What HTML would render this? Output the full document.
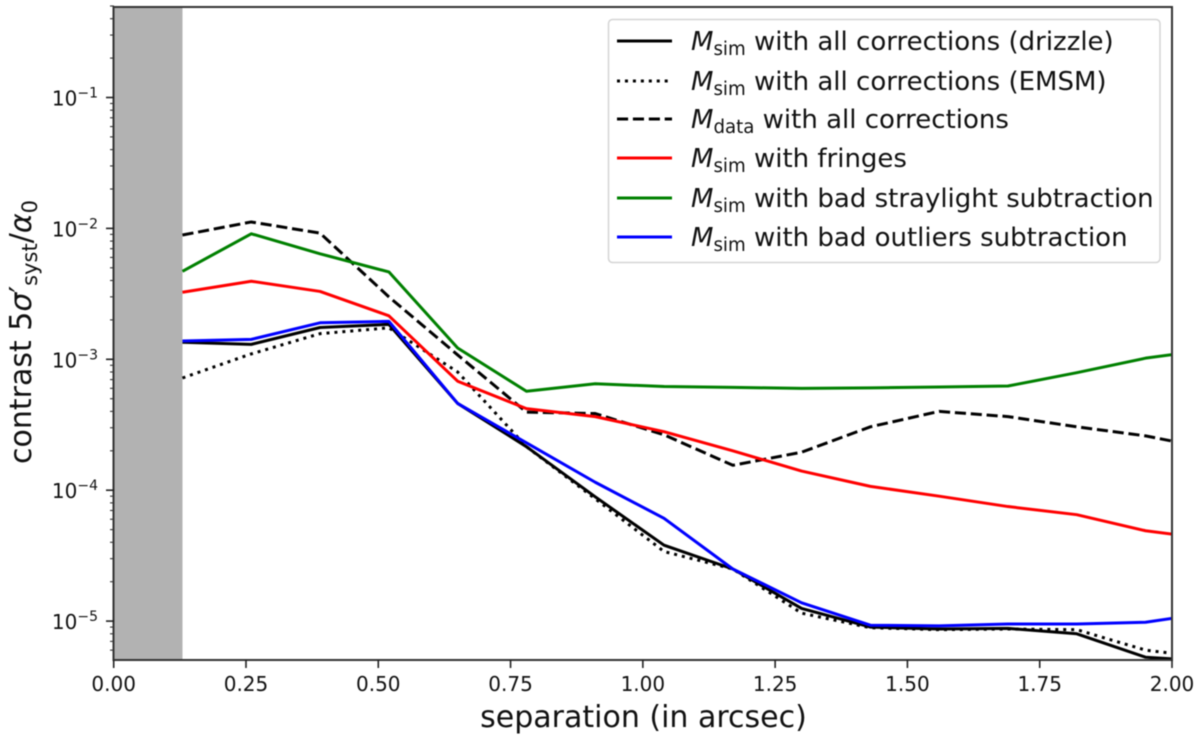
<!DOCTYPE html>
<html lang="en">
<head>
<meta charset="utf-8">
<title>Contrast vs separation</title>
<style>
html,body{margin:0;padding:0;background:#fff;}
#chart{display:block;width:1200px;height:739px;filter:blur(0.4px);}
text{font-family:"DejaVu Sans","Liberation Sans",sans-serif;fill:#111;}
</style>
</head>
<body>
<svg id="chart" xmlns="http://www.w3.org/2000/svg" width="1200" height="739" viewBox="0 0 1200 739">
  <defs><clipPath id="plot-clip"><rect x="114" y="7" width="1058" height="653"/></clipPath></defs>
  <rect x="0" y="0" width="1200" height="739" fill="#fff"/>
  <g id="band-layer"></g>
  <g id="series-layer" clip-path="url(#plot-clip)"></g>
  <rect x="113.5" y="7" width="1058.5" height="653" fill="none" stroke="#333" stroke-width="2"/>
  <g id="tick-layer"></g>

  <text x="643.5" y="727" text-anchor="middle" font-size="30">separation (in arcsec)</text>
  <text transform="translate(31,332) rotate(-90)" text-anchor="middle" font-size="30">contrast 5<tspan font-style="italic">σ</tspan>′<tspan font-size="21" dy="6">syst</tspan><tspan dy="-6">/</tspan><tspan font-style="italic">α</tspan><tspan font-size="21" dy="6">0</tspan></text>

  <g>
    <rect x="608.5" y="19.5" width="551.5" height="243" rx="4" ry="4" fill="#fff" fill-opacity="0.9" stroke="#d4d4d4" stroke-width="1.5"/>
    <g>
      <line x1="617" x2="672" y1="41" y2="41" stroke="#000" stroke-width="3"/>
      <text x="691" y="50" font-size="26"><tspan font-style="italic">M</tspan><tspan font-size="18.2" dy="5">sim</tspan><tspan dy="-5"> with all corrections (drizzle)</tspan></text>
    </g>
    <g>
      <line x1="617" x2="672" y1="81" y2="81" stroke="#000" stroke-width="3" stroke-dasharray="3 4.95"/>
      <text x="691" y="90" font-size="26"><tspan font-style="italic">M</tspan><tspan font-size="18.2" dy="5">sim</tspan><tspan dy="-5"> with all corrections (EMSM)</tspan></text>
    </g>
    <g>
      <line x1="617" x2="672" y1="119" y2="119" stroke="#000" stroke-width="3" stroke-dasharray="11.1 4.8"/>
      <text x="691" y="128" font-size="26"><tspan font-style="italic">M</tspan><tspan font-size="18.2" dy="5">data</tspan><tspan dy="-5"> with all corrections</tspan></text>
    </g>
    <g>
      <line x1="617" x2="672" y1="158" y2="158" stroke="#ff0000" stroke-width="3"/>
      <text x="691" y="167" font-size="26"><tspan font-style="italic">M</tspan><tspan font-size="18.2" dy="5">sim</tspan><tspan dy="-5"> with fringes</tspan></text>
    </g>
    <g>
      <line x1="617" x2="672" y1="198" y2="198" stroke="#008000" stroke-width="3"/>
      <text x="691" y="207" font-size="26"><tspan font-style="italic">M</tspan><tspan font-size="18.2" dy="5">sim</tspan><tspan dy="-5"> with bad straylight subtraction</tspan></text>
    </g>
    <g>
      <line x1="617" x2="672" y1="237" y2="237" stroke="#0000ff" stroke-width="3"/>
      <text x="691" y="246" font-size="26"><tspan font-style="italic">M</tspan><tspan font-size="18.2" dy="5">sim</tspan><tspan dy="-5"> with bad outliers subtraction</tspan></text>
    </g>
  </g>
</svg>
<script>
var separations = [0.13,0.26,0.39,0.52,0.65,0.78,0.91,1.04,1.17,1.30,1.43,1.56,1.69,1.82,1.95,2.08];
var simDrizzle = [1.35e-3,1.3e-3,1.75e-3,1.85e-3,4.6e-4,2.15e-4,8.9e-5,3.8e-5,2.5e-5,1.25e-5,9.0e-6,8.7e-6,8.8e-6,8.0e-6,5.3e-6,4.9e-6];
var simEmsm = [7.2e-4,1.1e-3,1.57e-3,1.74e-3,8.0e-4,2.15e-4,8.6e-5,3.4e-5,2.5e-5,1.15e-5,8.9e-6,8.6e-6,8.7e-6,8.6e-6,6.0e-6,5.2e-6];
var dataAll = [8.9e-3,1.12e-2,9.2e-3,3.0e-3,1.08e-3,3.95e-4,3.85e-4,2.65e-4,1.55e-4,1.95e-4,3.05e-4,4.0e-4,3.65e-4,3.05e-4,2.6e-4,2.05e-4];
var simFringes = [3.25e-3,3.95e-3,3.3e-3,2.15e-3,6.8e-4,4.2e-4,3.65e-4,2.8e-4,2.0e-4,1.4e-4,1.07e-4,9.0e-5,7.5e-5,6.5e-5,4.9e-5,4.2e-5];
var simStraylight = [4.7e-3,9.1e-3,6.4e-3,4.65e-3,1.22e-3,5.7e-4,6.5e-4,6.2e-4,6.1e-4,6.0e-4,6.05e-4,6.15e-4,6.25e-4,7.9e-4,1.02e-3,1.2e-3];
var simOutliers = [1.38e-3,1.42e-3,1.9e-3,1.95e-3,4.6e-4,2.3e-4,1.15e-4,6.1e-5,2.5e-5,1.38e-5,9.3e-6,9.2e-6,9.5e-6,9.5e-6,9.8e-6,1.17e-5];
var xTickValues = [0,0.25,0.5,0.75,1,1.25,1.5,1.75,2];
var xTickLabels = ['0.00','0.25','0.50','0.75','1.00','1.25','1.50','1.75','2.00'];
var yTickExponents = [-5,-4,-3,-2,-1];
var yTickLabels = ['−5','−4','−3','−2','−1'];
var bandLimit = 0.13;

var NS = 'http://www.w3.org/2000/svg';
function xAxis(v){ return 113.7 + v * 529.15; }
function yAxis(v){ return 97.5 + (-1 - Math.log10(v)) * 130.9; }

function make(tag, attrs, parent){
  var el = document.createElementNS(NS, tag);
  for (var k in attrs) el.setAttribute(k, attrs[k]);
  parent.appendChild(el);
  return el;
}

var bandLayer = document.getElementById('band-layer');
var band = make('rect', {x: xAxis(0), y: 7, width: xAxis(bandLimit) - xAxis(0), height: 653, fill: '#b2b2b2'}, bandLayer);



var seriesLayer = document.getElementById('series-layer');
function drawSeries(values, color, dash, name){
  var pts = [];
  for (var i = 0; i < values.length; i++) {
    pts.push(xAxis(separations[i]).toFixed(2) + ',' + yAxis(values[i]).toFixed(2));
  }
  var line = make('polyline', {points: pts.join(' '), fill: 'none', stroke: color, 'stroke-width': 3, 'stroke-linejoin': 'round'}, seriesLayer);
  if (dash) line.setAttribute('stroke-dasharray', dash);
  
  
}
drawSeries(simDrizzle, '#000', '', 'series-sim-drizzle');
drawSeries(simEmsm, '#000', '3 4.95', 'series-sim-emsm');
drawSeries(dataAll, '#000', '11.1 4.8', 'series-data-all-corrections');
drawSeries(simFringes, '#ff0000', '', 'series-sim-fringes');
drawSeries(simStraylight, '#008000', '', 'series-sim-straylight');
drawSeries(simOutliers, '#0000ff', '', 'series-sim-outliers');

var tickLayer = document.getElementById('tick-layer');
xTickValues.forEach(function(v, i){
  var x = xAxis(v);
  var tick = make('line', {x1: x, x2: x, y1: 660, y2: 668, stroke: '#222', 'stroke-width': 1.6}, tickLayer);
  
  
  var label = make('text', {x: x, y: 691, 'text-anchor': 'middle', 'font-size': 20}, tickLayer);
  label.textContent = xTickLabels[i];
  
  
});

yTickExponents.forEach(function(e, i){
  var y = yAxis(Math.pow(10, e));
  var tick = make('line', {x1: 106, x2: 114, y1: y, y2: y, stroke: '#222', 'stroke-width': 1.6}, tickLayer);
  
  
  var label = make('text', {x: 98, y: y + 8, 'text-anchor': 'end', 'font-size': 20}, tickLayer);
  var base = make('tspan', {}, label);
  base.textContent = '10';
  var sup = make('tspan', {'font-size': 14, dy: -8}, label);
  sup.textContent = yTickLabels[i];
  
  
});

for (var dec = -6; dec <= -1; dec++) {
  for (var m = 2; m <= 9; m++) {
    var mv = m * Math.pow(10, dec);
    if (mv < 5e-6 || mv > 0.5) continue;
    var my = yAxis(mv);
    var minor = make('line', {x1: 110, x2: 114, y1: my, y2: my, stroke: '#333', 'stroke-width': 1.1}, tickLayer);
    
    
  }
}
</script>
</body>
</html>
